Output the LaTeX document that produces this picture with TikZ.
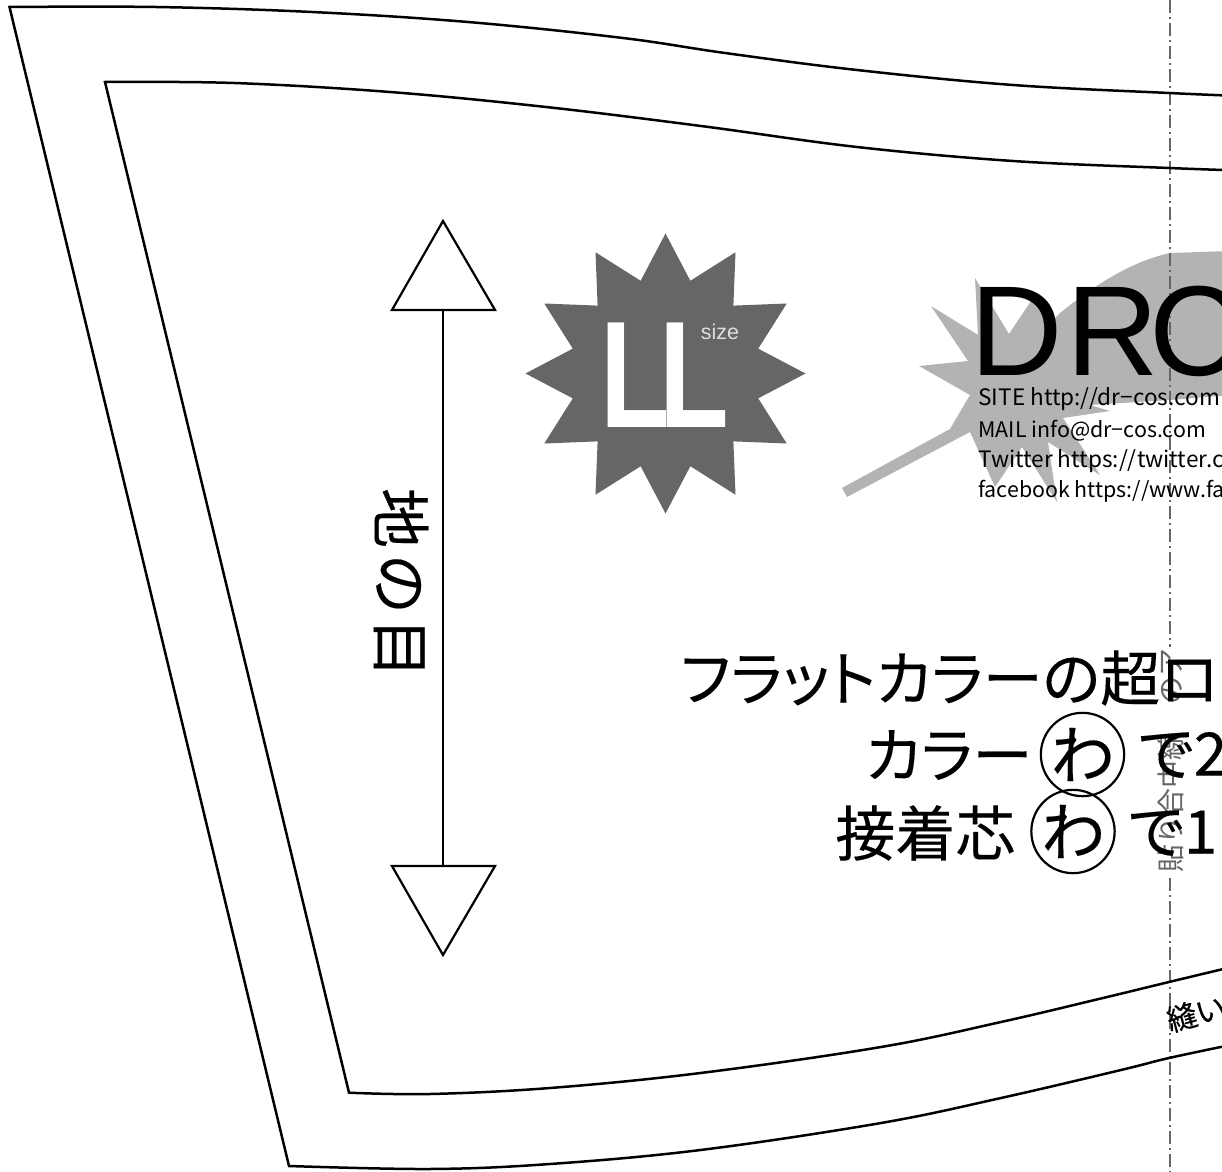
\documentclass[tikz,border=0pt]{standalone}
\usepackage{fontspec}
\setmainfont{Noto Sans CJK JP}[RawFeature=+palt]
\newfontfamily\arialfont{Liberation Sans}
\newfontfamily\heavyfont{Noto Sans CJK JP}[RawFeature=+palt,FakeBold=0.25]
\newfontfamily\fixedfont{Noto Sans CJK JP}
\newfontfamily\fixedheavy{Noto Sans CJK JP}[FakeBold=0.25]
\definecolor{starcol}{HTML}{666666}
\definecolor{splashcol}{HTML}{B3B3B3}
\tikzset{
  patline/.style={draw=black,line width=1.25pt,line join=miter},
  bigtext/.style={font=\heavyfont\fontsize{30}{30}\selectfont,inner sep=0pt,anchor=west,text=black},
  smalltext/.style={font=\fontsize{11.3}{11.3}\selectfont,inner sep=0pt,anchor=west,text=black},
  smallertext/.style={font=\fontsize{10.7}{10.7}\selectfont,inner sep=0pt,anchor=west,text=black},
  wamark/.style={circle,draw=black,line width=1.1pt,minimum size=39pt,inner sep=0pt,font=\heavyfont\fontsize{32}{32}\selectfont},
  foldline/.style={draw=starcol,line width=1.2pt,dash pattern=on 6.5pt off 2pt on 1pt off 2pt},
  grainhead/.style={draw=black,line width=1.1pt,fill=white,line join=miter}
}
\begin{document}
\begin{tikzpicture}[x=.5pt,y=-.5pt]
\useasboundingbox (0,0) rectangle (1222,1172);
\clip (0,0) rectangle (1222,1172);
\fill[white] (0,0) rectangle (1222,1172);
% splash
\fill[splashcol] (1230,251) -- (1170,253) .. controls (1130,262) and (1095,285) .. (1060,313) -- (1048,325) -- (1035,295) -- (1009,334) -- (975,278) -- (978,335) -- (931,306) -- (968,361) -- (919,366) -- (970,395) -- (950,429) -- (842,488) -- (847,497) -- (970,432) -- (995,487) -- (1022,447) -- (1057,502) -- (1048,442) -- (1100,475) -- (1063,418) -- (1110,411) -- (1090,405) -- (1170,400) -- (1230,395) -- cycle;
% fold line
\coordinate (foldtop) at (1170,0);
\coordinate (foldup) at (1170,647);
\coordinate (folddown) at (1170,878);
\coordinate (foldbot) at (1170,1172);
\draw[foldline] (foldtop) -- (foldup);
\draw[foldline] (folddown) -- (foldbot);
% pattern outlines
\draw[patline] plot[smooth,tension=.6] coordinates {(1240,96) (1169,93) (1013,85) (857,70) (725,53) (623,38) (468,22) (312,12) (156,7) (9.5,7)}
  -- plot[smooth,tension=.6] coordinates {(289,1166) (430,1169) (550,1164) (700.5,1150) (881,1123) (1001,1098) (1121,1070) (1169,1058) (1240,1043)};
\draw[patline] plot[smooth,tension=.6] coordinates {(1240,170.5) (1169,168) (1013,161) (857,147) (701,126) (546,107) (390,92) (234,83) (105,82)}
  -- plot[smooth,tension=.6] coordinates {(349,1092.7) (430,1094) (550,1088) (700.5,1073) (881,1047) (1001,1022) (1103,998) (1169,982) (1240,965)};
% grain arrow
\coordinate (graintop) at (443,310);
\coordinate (grainbot) at (443,866);
\draw[line width=1.3pt] (graintop) -- (grainbot);
\draw[grainhead] (443,221) -- (495,310) -- (392,310) -- cycle;
\draw[grainhead] (443,955) -- (495,866) -- (392,866) -- cycle;
\node[rotate=-90,inner sep=0pt,font=\fixedheavy\fontsize{30}{30}\selectfont] (grain) at (401,583) {地\kern3pt の\kern2pt 目};
% size star
\fill[starcol] (805.5,373.5) \foreach \i in {0,...,11} {
   -- ({665.5+96*cos(30*\i+15)},{373.5+96*sin(30*\i+15)}) -- ({665.5+140*cos(30*\i+30)},{373.5+140*sin(30*\i+30)})
 } -- cycle;
\node[inner sep=0pt,anchor=west,text=white,xscale=.75,font=\arialfont\bfseries\fontsize{76}{76}\selectfont] (ll) at (600,375) {L\kern-7pt L};
\node[inner sep=0pt,text=black!13,font=\arialfont\fontsize{10.7}{10.7}\selectfont] (size) at (720,332) {size};
% DRC and contact
\node[inner sep=0pt,anchor=west,font=\arialfont\fontsize{64}{64}\selectfont] (drc) at (970,331) {D\kern2pt R\kern-5pt C};
\node[smalltext] (site) at (978,399) {SITE http://dr−cos.com};
\node[smallertext] (mail) at (978,431) {MAIL info@dr−cos.com};
\node[smalltext] (tw) at (978,461) {Twitter https://twitter.c};
\node[smallertext] (fb) at (978,491) {facebook https://www.fa};
% gray vertical label
\node[rotate=90,fill=white,inner sep=0pt,text=starcol,font=\fixedfont\fontsize{14}{14}\selectfont] (fold) at (1171,760) {貼り合中線　のア};
% big text
\node[bigtext] (l1) at (680,678) {フラットカラーの超ロ};
\node[bigtext] (l2a) at (865,755) {カラー};
\node[wamark] (wa1) at (1082.5,754.5) {わ};
\node[bigtext] (l2b) at (1138,755) {で2};
\node[bigtext] (l3a) at (835,833) {接着芯};
\node[wamark] (wa2) at (1073,831.5) {わ};
\node[bigtext] (l3b) at (1128,833) {で1};
\node[rotate=15,inner sep=0pt,anchor=west,font=\heavyfont\fontsize{15}{15}\selectfont] (nui) at (1167,1021) {縫い};
\end{tikzpicture}
\end{document}
